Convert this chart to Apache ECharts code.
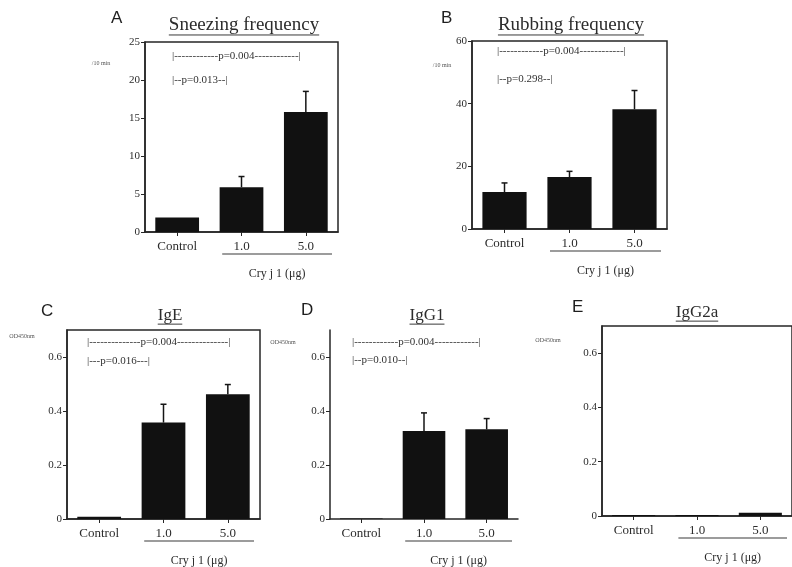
<!DOCTYPE html>
<html>
<head>
<meta charset="utf-8">
<script src="https://cdn.jsdelivr.net/npm/echarts@6/dist/echarts.min.js"></script>
<style>html,body{margin:0;padding:0;background:#fff}#c{width:792px;height:567px}</style>
</head>
<body>
<div id="c"></div>
<script>
// ---- data ----
const categories = ['Control', '1.0', '5.0'];
const sneezingMean = [1.9, 5.9, 15.8];
const sneezingSD = [0, 1.4, 2.7];
const rubbingMean = [11.8, 16.6, 38.2];
const rubbingSD = [2.9, 1.8, 6.0];
const igeMean = [0.008, 0.357, 0.462];
const igeSD = [0, 0.068, 0.036];
const igg1Mean = [0.002, 0.326, 0.332];
const igg1SD = [0, 0.067, 0.040];
const igg2aMean = [0.004, 0.004, 0.012];
const igg2aSD = [0, 0, 0];
const yTicksA = [0, 5, 10, 15, 20, 25];
const yTicksB = [0, 20, 40, 60];
const yTicksIg = [0, 0.2, 0.4, 0.6];
const titles = ['Sneezing frequency', 'Rubbing frequency', 'IgE', 'IgG1', 'IgG2a'];
const letters = ['A', 'B', 'C', 'D', 'E'];
const units = ['/10 min', '/10 min', 'OD450nm', 'OD450nm', 'OD450nm'];
const pLong = ['p=0.004', 'p=0.004', 'p=0.004', 'p=0.004', null];
const pShort = ['p=0.013', 'p=0.298', 'p=0.016', 'p=0.010', null];
const groupLabel = 'Cry j 1 (μg)';

const means = [sneezingMean, rubbingMean, igeMean, igg1Mean, igg2aMean];
const sds = [sneezingSD, rubbingSD, igeSD, igg1SD, igg2aSD];
const ticks = [yTicksA, yTicksB, yTicksIg, yTicksIg, yTicksIg];

// ---- layout (positions / styles only) ----
const layout = [
  {left:145, top:42, width:193, height:190, max:25, frame:true, lx:117, ly:19, tx:244, ty:27, tf:19, ux:101, uy:63, ax:172, ay1:57, ay2:81, nL:12, nS:2},
  {left:472, top:41, width:195, height:188, max:60, frame:true, lx:447, ly:19, tx:571, ty:27, tf:19, ux:442, uy:65, ax:497, ay1:52, ay2:80, nL:12, nS:2},
  {left:67, top:330, width:193, height:189, max:0.7, frame:true, lx:47, ly:312, tx:170, ty:317, tf:17, ux:22, uy:336, ax:87, ay1:343, ay2:362, nL:14, nS:3},
  {left:330, top:330, width:188, height:189, max:0.7, frame:false, lx:307, ly:311, tx:427, ty:317, tf:17, ux:283, uy:342, ax:352, ay1:343, ay2:361, nL:12, nS:2},
  {left:602, top:326, width:191, height:190, max:0.7, frame:true, lx:578, ly:308, tx:697, ty:314, tf:17, ux:548, uy:340, ax:0, ay1:0, ay2:0, nL:0, nS:0}
];

const SERIF = '"Liberation Serif", "DejaVu Serif", serif';
const SANS = '"Liberation Sans", Arial, sans-serif';
const INK = '#151515';

const mc = document.createElement('canvas').getContext('2d');
function textW(t, font) { mc.font = font; return mc.measureText(t).width; }

const grids = [], xAxes = [], yAxes = [], series = [], graphics = [];
layout.forEach((L, i) => {
  grids.push({left: L.left, top: L.top, width: L.width, height: L.height, show: L.frame,
    borderColor: '#262626', borderWidth: 1.5, backgroundColor: 'transparent', containLabel: false});
  xAxes.push({type: 'category', gridIndex: i, data: categories,
    axisLine: {show: true, lineStyle: {color: '#262626', width: 1.5}},
    axisTick: {show: true, alignWithLabel: true, length: 4, lineStyle: {color: '#262626'}},
    axisLabel: {color: '#2c2c2c', fontFamily: SERIF, fontSize: 13, margin: 8}});
  yAxes.push({type: 'value', gridIndex: i, min: 0, max: L.max,
    splitLine: {show: false},
    axisLine: {show: true, lineStyle: {color: '#262626', width: 1.5}},
    axisTick: {show: true, length: 4, customValues: ticks[i], lineStyle: {color: '#262626'}},
    axisLabel: {color: '#2c2c2c', fontFamily: SERIF, fontSize: 11, margin: 5, customValues: ticks[i]}});
  series.push({type: 'bar', xAxisIndex: i, yAxisIndex: i, data: means[i], barWidth: '68%',
    itemStyle: {color: '#111'}, silent: true});
  const errData = means[i].map((m, k) => [k, m, sds[i][k]]);
  series.push({type: 'custom', xAxisIndex: i, yAxisIndex: i, data: errData, silent: true, z: 5,
    renderItem: function (params, api) {
      const sd = api.value(2);
      if (!sd) return null;
      const k = api.value(0), m = api.value(1);
      const p0 = api.coord([k, m]);
      const p1 = api.coord([k, m + sd]);
      return {type: 'group', children: [
        {type: 'line', shape: {x1: p0[0], y1: p0[1], x2: p1[0], y2: p1[1]}, style: {stroke: INK, lineWidth: 1.5}},
        {type: 'line', shape: {x1: p1[0] - 3, y1: p1[1], x2: p1[0] + 3, y2: p1[1]}, style: {stroke: INK, lineWidth: 1.5}}
      ]};
    }});

  // letter
  graphics.push({type: 'text', left: L.lx - 6, top: L.ly - 9, style: {text: letters[i], font: '17px ' + SANS, fill: '#1e1e1e'}});
  // title + underline
  const tfont = L.tf + 'px ' + SERIF;
  const tw = textW(titles[i], tfont);
  graphics.push({type: 'text', left: L.tx - tw / 2, top: L.ty - L.tf * 0.6, style: {text: titles[i], font: tfont, fill: '#2c2c2c'}});
  graphics.push({type: 'line', shape: {x1: L.tx - tw / 2, y1: L.ty + L.tf * 0.42, x2: L.tx + tw / 2, y2: L.ty + L.tf * 0.42}, style: {stroke: '#3a3a3a', lineWidth: 1}});
  // unit label
  const uw = textW(units[i], '6px ' + SERIF);
  graphics.push({type: 'text', left: L.ux - uw / 2, top: L.uy - 3, style: {text: units[i], font: '6px ' + SERIF, fill: '#555'}});
  // p annotations
  if (pLong[i]) {
    const d1 = '-'.repeat(L.nL), d2 = '-'.repeat(L.nS);
    graphics.push({type: 'text', left: L.ax, top: L.ay1 - 6, style: {text: '|' + d1 + pLong[i] + d1 + '|', font: '11px ' + SERIF, fill: '#333'}});
    graphics.push({type: 'text', left: L.ax, top: L.ay2 - 6, style: {text: '|' + d2 + pShort[i] + d2 + '|', font: '11px ' + SERIF, fill: '#333'}});
  }
  // group underline + label
  const bottom = L.top + L.height;
  const gx1 = L.left + L.width * 0.4, gx2 = L.left + L.width - 6;
  graphics.push({type: 'line', shape: {x1: gx1, y1: bottom + 22, x2: gx2, y2: bottom + 22}, style: {stroke: '#3a3a3a', lineWidth: 1.2}});
  const gw = textW(groupLabel, '12px ' + SERIF);
  graphics.push({type: 'text', left: (gx1 + gx2) / 2 - gw / 2, top: bottom + 36, style: {text: groupLabel, font: '12px ' + SERIF, fill: '#2c2c2c'}});
});

const chart = echarts.init(document.getElementById('c'), null, {renderer: 'canvas'});
chart.setOption({
  animation: false,
  backgroundColor: '#fff',
  grid: grids, xAxis: xAxes, yAxis: yAxes, series: series,
  graphic: {elements: graphics}
});
</script>
</body>
</html>
